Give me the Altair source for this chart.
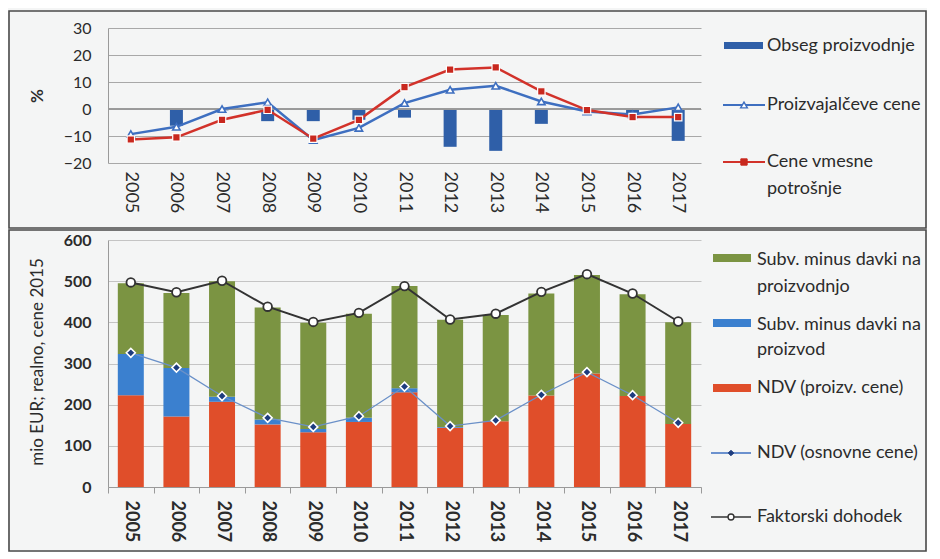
import altair as alt
import pandas as pd

# ---------------- data ----------------
years = [str(y) for y in range(2005, 2018)]

# top panel (%)
obseg_proizvodnje = [-0.3, -6.2, -0.5, -4.5, -4.5, -4.0, -3.2, -14.0, -15.5, -5.5, -0.3, -2.0, -11.8]
proizvajalceve_cene = [-9.3, -6.6, 0.0, 2.5, -11.5, -7.0, 2.2, 7.1, 8.6, 2.8, -0.9, -2.0, 0.6]
cene_vmesne_potrosnje = [-11.3, -10.5, -4.0, -0.3, -11.0, -4.0, 8.1, 14.6, 15.4, 6.5, -0.4, -3.0, -3.0]

# bottom panel (mio EUR)
ndv_proizv_cene = [223, 171, 207, 152, 133, 158, 230, 144, 160, 222, 276, 221, 153]
subv_davki_proizvod = [100, 118, 12, 12, 8, 10, 10, 2, 0, 0, 0, 0, 0]
subv_davki_proizvodnjo = [172, 182, 281, 272, 258, 253, 248, 260, 258, 248, 239, 247, 247]
ndv_osnovne_cene = [326, 290, 221, 168, 146, 172, 244, 148, 162, 224, 279, 223, 156]
faktorski_dohodek = [497, 473, 501, 438, 401, 423, 488, 407, 421, 474, 517, 470, 402]

top_labels = ["Obseg proizvodnje", "Proizvajalčeve cene", "Cene vmesne", "potrošnje"]
stack_names = ["NDV (proizv. cene)", "Subv. minus davki na proizvod", "Subv. minus davki na proizvodnjo"]
stack_colors = ["#e04e2a", "#3b80cf", "#7b9442"]

FONT = "Lato"
TXT = "#2b2b2b"
W = 593
H_TOP = 135
H_BOT = 247

# ---------------- top panel ----------------
top_df = pd.DataFrame({
    "year": years,
    "obseg": obseg_proizvodnje,
    "pc": proizvajalceve_cene,
    "cv": cene_vmesne_potrosnje,
})

x_top = alt.X("year:N", title=None, sort=years,
              scale=alt.Scale(paddingInner=0, paddingOuter=0),
              axis=alt.Axis(labelAngle=90, domain=False, ticks=False, grid=False,
                            labelFontSize=18, labelPadding=8, labelColor=TXT, labelFont=FONT))
y_top_axis = alt.Axis(values=[-20, -10, 0, 10, 20, 30], grid=True, gridColor="#a8a8a8",
                      domainColor="#9a9a9a", ticks=False, labelPadding=17, labelOverlap=False,
                      labelFontSize=16, labelColor=TXT, labelFont=FONT,
                      title="%", titleFontSize=17, titleFont=FONT, titleColor=TXT,
                      titleFontWeight="bold", titleX=-71, titleY=H_TOP / 2,
                      titleBaseline="middle", titleAngle=-90)
y_top_scale = alt.Scale(domain=[-20, 30], nice=False)


def ytop(field):
    return alt.Y(field, scale=y_top_scale, axis=y_top_axis)


base_top = alt.Chart(top_df)
bars_top = base_top.mark_bar(color="#2f5fa8", size=13).encode(
    x=x_top, y=ytop("obseg:Q"))
zero = base_top.mark_rule(color="#9a9a9a", strokeWidth=1).encode(
    y=alt.datum(0, scale=y_top_scale, axis=y_top_axis))
line_pc = base_top.mark_line(color="#3e6fc0", strokeWidth=2.5).encode(
    x=x_top, y=ytop("pc:Q"))
pts_pc = base_top.mark_point(shape="triangle-up", filled=True, fill="white",
                             stroke="#3e6fc0", strokeWidth=1.6, size=55, opacity=1).encode(
    x=x_top, y=ytop("pc:Q"))
line_cv = base_top.mark_line(color="#d2322a", strokeWidth=2.5).encode(
    x=x_top, y=ytop("cv:Q"))
pts_cv = base_top.mark_point(shape="square", filled=True, fill="#c8281e",
                             stroke="white", strokeWidth=1.2, size=55, opacity=1).encode(
    x=x_top, y=ytop("cv:Q"))

one = alt.Data(values=[{"k": 1}])


def frame(y0, y1):
    return alt.Chart(one).mark_rect(filled=False, stroke="#4a4a4a", strokeWidth=1.6).encode(
        x=alt.value(-99), x2=alt.value(818), y=alt.value(y0), y2=alt.value(y1))


def label(text, x, y):
    return alt.Chart(one).mark_text(align="left", baseline="middle", fontSize=18,
                                    font=FONT, color=TXT).encode(
        x=alt.value(x), y=alt.value(y), text=alt.value(text))


def swatch(color, x0, x1, y0, y1):
    return alt.Chart(one).mark_rect(color=color).encode(
        x=alt.value(x0), x2=alt.value(x1), y=alt.value(y0), y2=alt.value(y1))


def seg(color, x0, x1, y, w):
    return alt.Chart(one).mark_rule(color=color, strokeWidth=w).encode(
        x=alt.value(x0), x2=alt.value(x1), y=alt.value(y))


def marker(shape, x, y, fill, stroke, size, sw):
    return alt.Chart(one).mark_point(shape=shape, filled=True, fill=fill, stroke=stroke,
                                     strokeWidth=sw, size=size, opacity=1).encode(
        x=alt.value(x), y=alt.value(y))


top_legend = [
    swatch("#2f5fa8", 616, 655, 14, 21),
    label(top_labels[0], 659, 18),
    seg("#3e6fc0", 615, 657, 77, 2),
    marker("triangle-up", 636, 77, "white", "#3e6fc0", 45, 1.4),
    label(top_labels[1], 659, 77),
    seg("#d2322a", 615, 657, 134, 2),
    marker("square", 636, 134, "#c8281e", "#c8281e", 40, 1),
    label(top_labels[2], 659, 134),
    label(top_labels[3], 659, 161),
]

top = alt.layer(frame(-17, 200), bars_top, zero, line_pc, line_cv, pts_pc, pts_cv,
                *top_legend).properties(width=W, height=H_TOP)

# ---------------- bottom panel ----------------
rows = []
for i, y in enumerate(years):
    for j, (name, vals) in enumerate(zip(stack_names,
                                         [ndv_proizv_cene, subv_davki_proizvod, subv_davki_proizvodnjo])):
        rows.append({"year": y, "series": name, "value": vals[i], "ord": j})
stack_df = pd.DataFrame(rows)
line_df = pd.DataFrame({"year": years, "ndv": ndv_osnovne_cene, "fd": faktorski_dohodek})

x_bot = alt.X("year:N", title=None, sort=years,
              scale=alt.Scale(paddingInner=0, paddingOuter=0),
              axis=alt.Axis(labelAngle=90, domain=True, domainColor="#9a9a9a", ticks=True,
                            tickBand="extent", tickSize=6, tickColor="#9a9a9a",
                            grid=False, labelFontSize=18, labelFontWeight="bold",
                            labelPadding=7, labelColor=TXT, labelFont=FONT))
y_bot_scale = alt.Scale(domain=[0, 600], nice=False)
y_bot_axis = alt.Axis(values=[0, 100, 200, 300, 400, 500, 600], grid=True,
                      gridColor="#c4c4c4", domainColor="#9a9a9a", ticks=False,
                      labelPadding=17, labelFontSize=16, labelFontWeight="bold",
                      labelOverlap=False, labelColor=TXT, labelFont=FONT,
                      title="mio EUR; realno, cene 2015", titleFontSize=17,
                      titleFont=FONT, titleColor=TXT, titleFontWeight="normal",
                      titleX=-71, titleY=H_BOT / 2 - 2, titleBaseline="middle",
                      titleAngle=-90)

bars_bot = alt.Chart(stack_df).mark_bar(size=26).encode(
    x=x_bot,
    y=alt.Y("value:Q", stack="zero", scale=y_bot_scale, axis=y_bot_axis),
    color=alt.Color("series:N", scale=alt.Scale(domain=stack_names, range=stack_colors),
                    legend=None),
    order=alt.Order("ord:Q"))

base_l = alt.Chart(line_df)


def ybot(field):
    return alt.Y(field, scale=y_bot_scale, axis=y_bot_axis)


line_ndv = base_l.mark_line(color="#6a90c8", strokeWidth=1.3).encode(x=x_bot, y=ybot("ndv:Q"))
pts_ndv = base_l.mark_point(shape="diamond", filled=True, fill="#1d3c7e", stroke="white",
                            strokeWidth=1.6, size=80, opacity=1).encode(x=x_bot, y=ybot("ndv:Q"))
line_fd = base_l.mark_line(color="#333333", strokeWidth=2).encode(x=x_bot, y=ybot("fd:Q"))
pts_fd = base_l.mark_point(shape="circle", filled=True, fill="white", stroke="#333333",
                           strokeWidth=1.8, size=75, opacity=1).encode(x=x_bot, y=ybot("fd:Q"))

bot_legend = [
    swatch(stack_colors[2], 605, 643, 14, 22),
    label("Subv. minus davki na", 649, 20),
    label("proizvodnjo", 649, 47),
    swatch(stack_colors[1], 605, 643, 79, 87),
    label("Subv. minus davki na", 649, 85),
    label("proizvod", 649, 110),
    swatch(stack_colors[0], 605, 643, 144, 152),
    label("NDV (proizv. cene)", 649, 148),
    seg("#3e6fc0", 603, 643, 213, 1.5),
    marker("diamond", 623, 213, "#1d3c7e", "#1d3c7e", 30, 1),
    label("NDV (osnovne cene)", 649, 213),
    seg("#333333", 603, 643, 277, 1.5),
    marker("circle", 623, 277, "white", "#333333", 35, 1.4),
    label("Faktorski dohodek", 649, 277),
]

bottom = alt.layer(frame(-10, 311), bars_bot, line_ndv, line_fd, pts_ndv, pts_fd,
                   *bot_legend).properties(width=W, height=H_BOT)

chart = alt.vconcat(top, bottom, spacing=0).properties(
    padding={"left": 0, "top": 2, "right": 0, "bottom": 0},
    background="#f4f5f5",
).configure_view(stroke=None)

chart.save("out.html", embed_options={"renderer": "svg", "actions": False})
